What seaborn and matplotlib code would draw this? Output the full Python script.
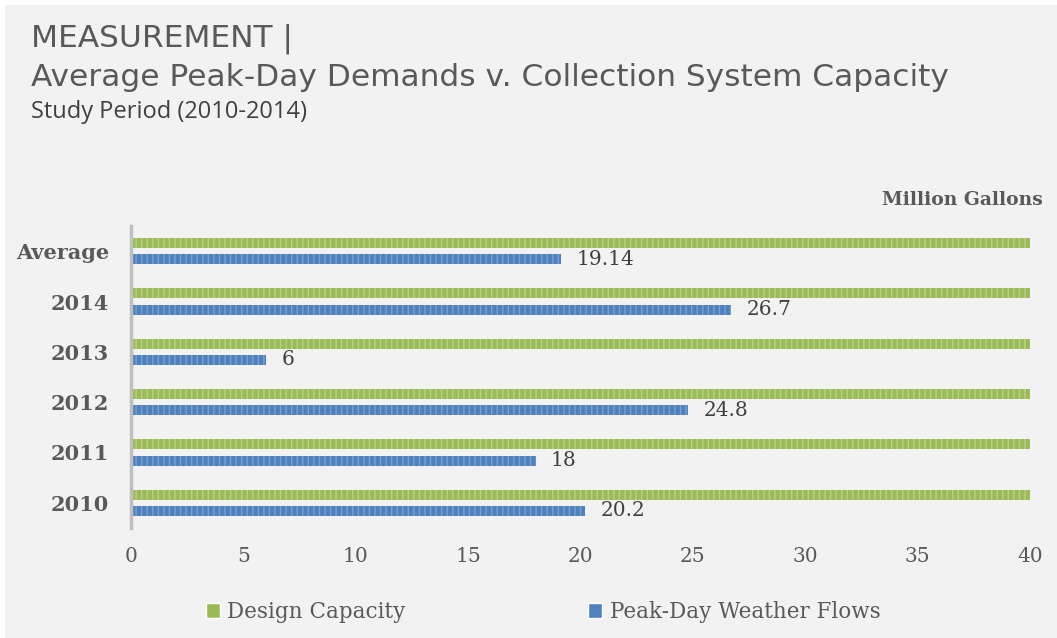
import matplotlib
matplotlib.use("Agg")
import matplotlib.pyplot as plt
from matplotlib.patches import Rectangle
import seaborn as sns
import pandas as pd

# Chart data
categories = ["Average", "2014", "2013", "2012", "2011", "2010"]
design_capacity = [40, 40, 40, 40, 40, 40]
peak_day_flows = [19.14, 26.7, 6, 24.8, 18, 20.2]
series_names = ["Design Capacity", "Peak-Day Weather Flows"]
x_ticks = [0, 5, 10, 15, 20, 25, 30, 35, 40]

df = pd.DataFrame({
    "category": categories * 2,
    "value": design_capacity + peak_day_flows,
    "series": [series_names[0]] * len(categories) + [series_names[1]] * len(categories),
})

sns.set_theme(style="white")
BG = "#f2f2f2"
TXT = "#595959"
SERIF = ["DejaVu Serif"]
TITLE_FONT = ["DejaVu Sans"]
SUB_FONT = ["Open Sans", "DejaVu Sans"]
palette = {series_names[0]: "#9bbb59", series_names[1]: "#4f81bd"}
hatch_colors = {series_names[0]: "#b8d27f", series_names[1]: "#7aa0d4"}

W, H = 1057, 638
fig = plt.figure(figsize=(W / 100, H / 100), dpi=100, facecolor="white")
fig.patches.append(Rectangle((5 / W, 0), 1, 1 - 5 / H, transform=fig.transFigure,
                             facecolor=BG, edgecolor="none", zorder=-10))

ax = fig.add_axes([131 / W, 1 - 528 / H, (1030 - 131) / W, (528 - 226) / H])
ax.set_facecolor(BG)
ax.patch.set_alpha(0)

sns.barplot(data=df, x="value", y="category", hue="series", order=categories,
            hue_order=series_names, palette=palette, orient="h",
            width=0.64, gap=0.375, ax=ax, saturation=1, legend=True)

plt.rcParams["hatch.linewidth"] = 1.0
for container, name in zip(ax.containers, series_names):
    for bar in container:
        bar.set_hatch("|||")
        bar.set_edgecolor(hatch_colors[name])
        bar.set_linewidth(0)

# value labels on the peak-day bars
for bar, v in zip(ax.containers[1], peak_day_flows):
    y = bar.get_y() + bar.get_height() / 2
    ax.annotate(f"{v:g}", xy=(v, y), xytext=(11, 0), textcoords="offset points",
                va="center", ha="left", fontsize=14.5, color="#404040", family=SERIF)

ax.set_xlim(0, 40)
ax.set_ylim(5.5, -0.5)
ax.set_xticks(x_ticks)
ax.set_xticklabels([str(t) for t in x_ticks], family=SERIF, fontsize=14.5, color=TXT)
ax.set_yticklabels(categories, family=SERIF, fontsize=15, fontweight="bold", color=TXT)
ax.tick_params(axis="x", length=0, pad=14)
ax.tick_params(axis="y", length=0, pad=16)
ax.set_xlabel("")
ax.set_ylabel("")
for s in ["top", "right", "bottom"]:
    ax.spines[s].set_visible(False)
ax.spines["left"].set_color("#bfbfbf")
ax.spines["left"].set_linewidth(2.5)

handles, labels = ax.get_legend_handles_labels()
ax.get_legend().remove()
fig.legend(handles, labels, loc="center left", bbox_to_anchor=(206 / W, 1 - 612 / H),
           ncol=2, frameon=False, prop={"family": SERIF, "size": 15.5},
           labelcolor=TXT, handlelength=0.65, handleheight=0.65, handletextpad=0.33,
           columnspacing=8.5, borderpad=0, borderaxespad=0)

fig.text(1043 / W, 1 - 200 / H, "Million Gallons", ha="right", va="center",
         family=SERIF, fontsize=13.5, fontweight="bold", color=TXT)

fig.text(31 / W, 1 - 39 / H, "MEASUREMENT |", ha="left", va="center",
         family=TITLE_FONT, fontsize=22.5, color=TXT)
fig.text(31 / W, 1 - 77 / H, "Average Peak-Day Demands v. Collection System Capacity",
         ha="left", va="center", family=TITLE_FONT, fontsize=22.5, color=TXT)
fig.text(31 / W, 1 - 112 / H, "Study Period (2010-2014)", ha="left", va="center",
         family=SUB_FONT, fontsize=17, color="#404040")

fig.savefig("out.png", dpi=100, facecolor=fig.get_facecolor())
